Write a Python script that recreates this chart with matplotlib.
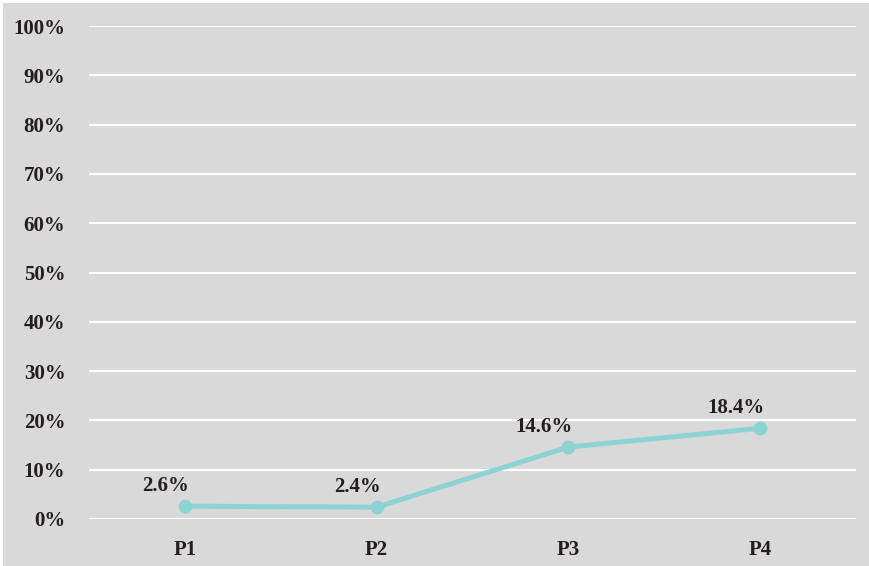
import matplotlib.pyplot as plt
from matplotlib.patches import Rectangle
from matplotlib.ticker import FuncFormatter

categories = ["P1", "P2", "P3", "P4"]
values = [2.6, 2.4, 14.6, 18.4]
labels = ["2.6%", "2.4%", "14.6%", "18.4%"]

plt.rcParams['font.family'] = ['Liberation Serif', 'DejaVu Serif']
plt.rcParams['font.weight'] = 'bold'

bg = '#d9d9d9'
fig = plt.figure(figsize=(8.69, 5.66), dpi=100, facecolor='white')
# sfondo grigio con un bordino bianco in alto e a sinistra
fig.patches.append(Rectangle((3 / 869, 0), 1, 1 - 3 / 566, transform=fig.transFigure,
                             facecolor=bg, edgecolor='none', zorder=-10))
ax = fig.add_axes([89 / 869, 1 - 519 / 566, (856 - 89) / 869, (519 - 26) / 566])
ax.set_facecolor(bg)

x = range(len(categories))
ax.plot(x, values, color='#8dd3d3', linewidth=3.6, marker='o', markersize=9,
        solid_capstyle='round', zorder=3, clip_on=False)

for xi, v, lab in zip(x, values, labels):
    ax.annotate(lab, (xi, v), xytext=(3, 11), textcoords='offset points',
                ha='right', va='baseline', fontsize=15, fontweight='bold',
                color='#231f20')

ax.set_xlim(-0.5, len(categories) - 0.5)
ax.set_ylim(0, 100)
ax.set_yticks(range(0, 101, 10))
ax.yaxis.set_major_formatter(FuncFormatter(lambda v, p: f"{v:.0f}%"))
ax.set_xticks(list(x))
ax.set_xticklabels(categories)

ax.grid(axis='y', color='white', linewidth=1.5)
ax.set_axisbelow(True)
for s in ax.spines.values():
    s.set_visible(False)
ax.tick_params(axis='both', length=0, labelsize=15, labelcolor='#231f20')
ax.tick_params(axis='y', pad=17)
ax.tick_params(axis='x', pad=15)

fig.savefig("out.png", dpi=100, facecolor=fig.get_facecolor())
